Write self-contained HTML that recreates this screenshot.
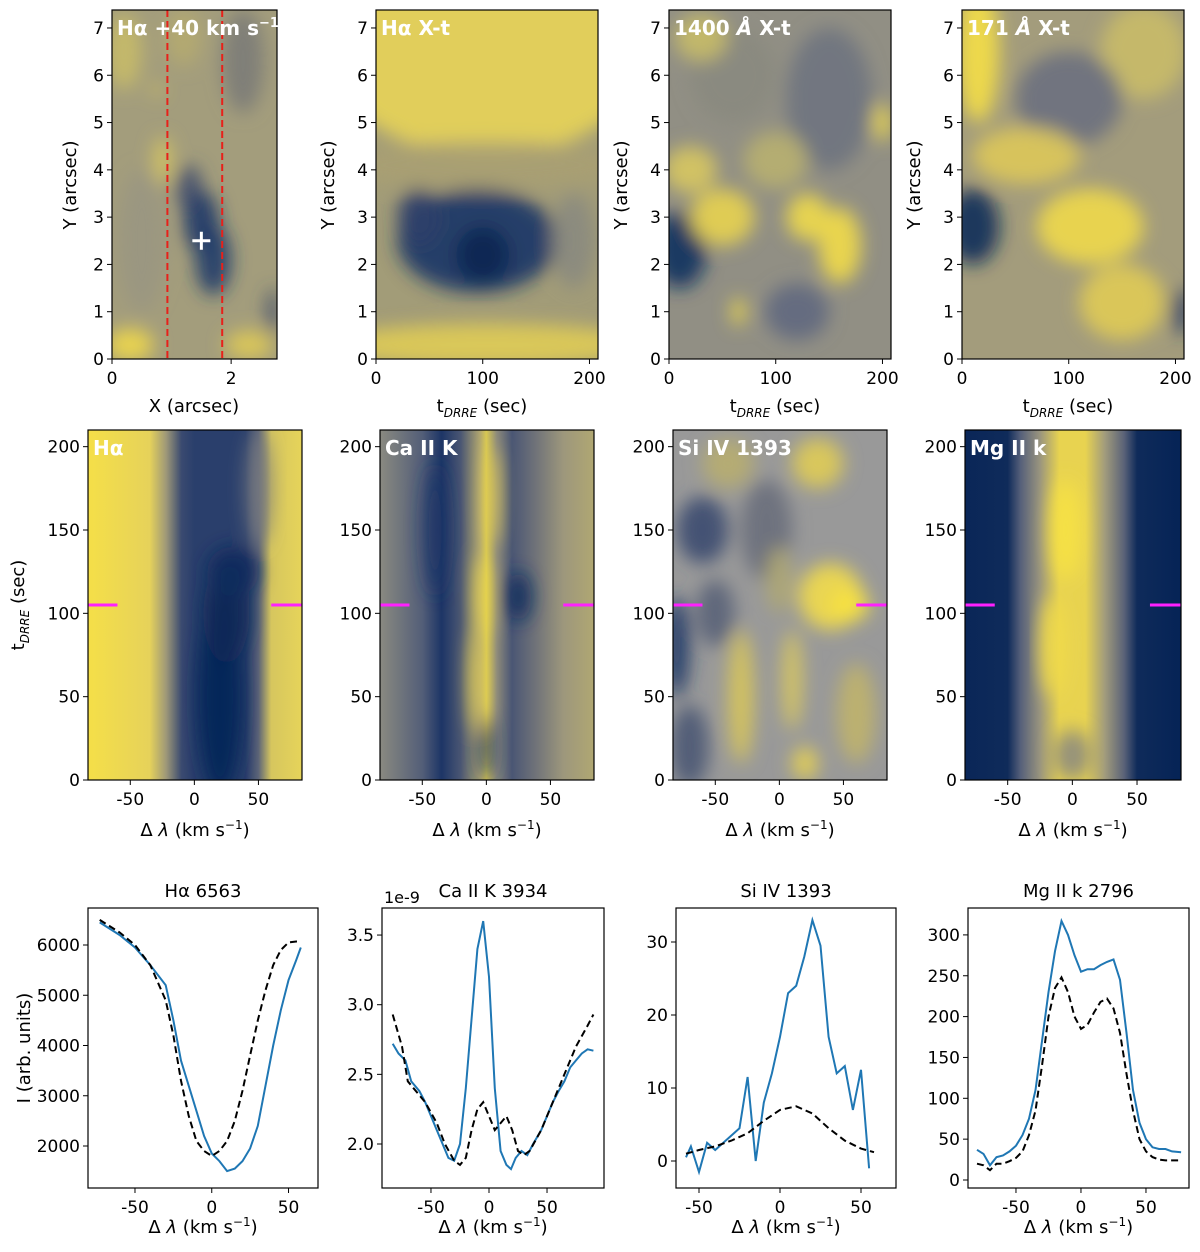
<!DOCTYPE html>
<html><head><meta charset="utf-8"><style>
body{margin:0;background:#fff}
svg text{font-family:"DejaVu Sans","Liberation Sans",sans-serif}
</style></head><body>
<svg id="fig" width="1200" height="1247" viewBox="0 0 1200 1247" xmlns="http://www.w3.org/2000/svg">
<defs>
<filter id="blur6" x="-20%" y="-20%" width="140%" height="140%"><feGaussianBlur stdDeviation="9"/></filter>
</defs>
</svg>
<script>
// ---------- line chart data (row 3) ----------
const haX=[-73,-60,-50,-40,-30,-25,-20,-15,-10,-5,0,5,10,15,20,25,30,35,40,45,50,55,58];
const haObs=[6450,6200,5950,5600,5200,4500,3700,3200,2700,2200,1850,1700,1500,1550,1700,1950,2400,3200,4000,4700,5300,5700,5950];
const haRef=[6500,6250,6000,5600,4900,4200,3300,2600,2100,1900,1800,1900,2100,2500,3100,3800,4500,5100,5600,5900,6050,6070,6070];
const caX=[-83,-78,-72,-67,-60,-55,-50,-45,-40,-35,-30,-25,-20,-15,-10,-5,0,5,10,15,19,23,28,33,38,45,50,55,60,65,70,75,80,85,90];
const caObs=[2.72,2.65,2.6,2.45,2.38,2.3,2.2,2.1,2.0,1.9,1.88,2.0,2.4,2.9,3.4,3.6,3.2,2.4,1.95,1.85,1.82,1.9,1.95,1.92,2.0,2.1,2.2,2.3,2.38,2.45,2.55,2.6,2.65,2.68,2.67];
const caRefX=[-83,-75,-70,-65,-55,-45,-38,-30,-25,-20,-15,-10,-5,0,5,10,15,20,25,30,35,45,55,65,75,85,90];
const caRef=[2.93,2.7,2.45,2.4,2.3,2.15,2.0,1.88,1.85,1.9,2.1,2.25,2.3,2.2,2.1,2.15,2.2,2.1,1.95,1.92,1.95,2.1,2.3,2.5,2.7,2.85,2.93];
const siX=[-58,-55,-50,-45,-40,-35,-30,-25,-20,-15,-10,-5,0,5,10,15,20,25,30,35,40,45,50,55];
const siObs=[0.5,2,-1.5,2.5,1.5,2.5,3.5,4.5,11.5,0,8,12,17,23,24,28,33,29.5,17,12,13,7,12.5,-1];
const siRefX=[-58,-50,-40,-30,-20,-10,0,10,20,30,40,50,58];
const siRef=[1,1.5,2,2.8,3.8,5.5,7,7.5,6.5,4.5,2.8,1.7,1.2];
const mgX=[-80,-75,-70,-65,-60,-55,-50,-45,-40,-35,-30,-25,-20,-15,-10,-5,0,5,10,15,20,25,30,35,40,45,50,55,60,65,70,77];
const mgObs=[37,32,18,28,30,35,42,55,75,110,170,230,280,317,300,275,255,258,258,263,267,270,245,180,110,70,50,40,38,38,35,34];
const mgRef=[20,18,12,20,20,23,27,35,55,85,140,200,235,248,230,200,185,190,205,218,222,210,180,130,85,50,35,28,25,24,24,24];

const NS="http://www.w3.org/2000/svg";
const svg=document.getElementById('fig');
function el(tag,attrs,parent){const e=document.createElementNS(NS,tag);for(const k in attrs)e.setAttribute(k,attrs[k]);(parent||svg).appendChild(e);return e;}
function txt(s,x,y,attrs,parent){const t=el('text',Object.assign({x:x,y:y,'font-size':17,fill:'#000'},attrs||{}),parent);t.innerHTML=s;return t;}
function axes(box,xd,yd){
  const sx=v=>box.x0+(v-xd[0])/(xd[1]-xd[0])*(box.x1-box.x0);
  const sy=v=>box.y1-(v-yd[0])/(yd[1]-yd[0])*(box.y1-box.y0);
  return {sx,sy};
}
function frame(box,name){
  const r=el('rect',{x:box.x0,y:box.y0,width:box.x1-box.x0,height:box.y1-box.y0,fill:'none',stroke:'#000','stroke-width':1.2});
  
  
}
function ticks(box,A,xt,yt,xfmt,yfmt){
  const g=el('g',{});
  
  
  xt.forEach(v=>{const x=A.sx(v);el('line',{x1:x,x2:x,y1:box.y1,y2:box.y1+5,stroke:'#000'},g);
    const t=txt(xfmt?xfmt(v):String(v),x,box.y1+25,{'text-anchor':'middle'},g);
    });
  yt.forEach(v=>{const y=A.sy(v);el('line',{x1:box.x0-5,x2:box.x0,y1:y,y2:y,stroke:'#000'},g);
    const t=txt(yfmt?yfmt(v):String(v),box.x0-8,y+6,{'text-anchor':'end'},g);
    });
}
let clipN=0;
function heat(box,A,name,bg,cols,blobs){
  const id='c'+(clipN++);
  const cp=el('clipPath',{id:id},svg.querySelector('defs'));
  el('rect',{x:box.x0,y:box.y0,width:box.x1-box.x0,height:box.y1-box.y0},cp);
  const g=el('g',{'clip-path':'url(#'+id+')'});
  
  
  if(cols){
    const gid='g'+id;
    const lg=el('linearGradient',{id:gid,x1:0,x2:1,y1:0,y2:0},svg.querySelector('defs'));
    const xd0=cols[0][0],xd1=cols[cols.length-1][0];
    cols.forEach(c=>el('stop',{offset:((c[0]-xd0)/(xd1-xd0)),'stop-color':c[1]},lg));
    el('rect',{x:A.sx(xd0),y:box.y0,width:A.sx(xd1)-A.sx(xd0),height:box.y1-box.y0,fill:'url(#'+gid+')'},g);
  } else {
    el('rect',{x:box.x0,y:box.y0,width:box.x1-box.x0,height:box.y1-box.y0,fill:bg},g);
  }
  const bg2=el('g',{filter:'url(#blur6)'},g);
  blobs.forEach(b=>{
    const cx=A.sx(b[0]),cy=A.sy(b[1]);
    const rx=Math.abs(A.sx(b[0]+b[2])-cx),ry=Math.abs(A.sy(b[1]+b[3])-cy);
    el('ellipse',{cx:cx,cy:cy,rx:rx,ry:ry,fill:b[4],opacity:b[5]||0.9},bg2);
  });
  return g;
}
function title(box,s,name){
  const t=txt(s,box.x0+5,box.y0+25,{fill:'#fff','font-weight':'bold','font-size':20});
  
}
function ylab(s,x,cy,name){
  const t=txt(s,x,cy,{'text-anchor':'middle','font-size':18,transform:'rotate(-90 '+x+' '+cy+')'});
  
}
function xlab(s,cx,y,name){
  const t=txt(s,cx,y,{'text-anchor':'middle','font-size':18});
  
}
const tl='t<tspan font-size="12" dy="5" font-style="italic">DRRE</tspan><tspan dy="-5"> (sec)</tspan>';
const dl='Δ <tspan font-style="italic">λ</tspan> (km s<tspan font-size="12" dy="-7">−1</tspan><tspan dy="7">)</tspan>';

// ---------- Row 1 ----------
const r1y=[10,359];
const p1={x0:112,x1:277,y0:r1y[0],y1:r1y[1]};
const A1=axes(p1,[0,2.77],[0,7.38]);
heat(p1,A1,'halpha-image','#a39d7c',null,[
 [2.2,6.3,0.35,1.1,'#7c7b78'],[0.5,2.5,0.4,1.5,'#9a9682'],[0.3,0.3,0.4,0.35,'#f0d84a'],[2.3,0.3,0.4,0.3,'#e0cb55'],
 [0.85,4.2,0.15,0.5,'#d8c860'],[0.75,5.7,0.08,0.1,'#f0d850'],[1.3,3.6,0.22,0.5,'#44506e'],
 [1.5,2.9,0.3,0.65,'#1d3768'],[1.7,2.1,0.3,0.75,'#203a6a'],[2.7,1.0,0.1,0.5,'#3d4a6b'],[0.2,6.5,0.3,0.8,'#c8bb68'],[1.2,6.8,0.3,0.6,'#b5ab70']]);
[0.93,1.85].forEach(v=>{const l=el('line',{x1:A1.sx(v),x2:A1.sx(v),y1:p1.y0,y2:p1.y1,stroke:'#e8201a','stroke-width':2,'stroke-dasharray':'7,4'});
 });
const pl=el('path',{d:`M${A1.sx(1.5)-9},${A1.sy(2.5)}h18M${A1.sx(1.5)},${A1.sy(2.5)-9}v18`,stroke:'#fff','stroke-width':3});

frame(p1,'halpha-image');ticks(p1,A1,[0,2],[0,1,2,3,4,5,6,7]);
title(p1,'Hα +40 km s<tspan font-size="13" dy="-8">−1</tspan>','halpha-image-title');
ylab('Y (arcsec)',76,185,'y-axis-title');xlab('X (arcsec)',194,412,'x-axis-title');

const xtSpecs=[
 {x0:376,x1:598,name:'halpha-xt',t:'Hα X-t',bg:'#a29c78',blobs:[[104,6.5,150,2.2,'#e8d458'],[104,0.3,150,0.45,'#e0cc55'],[100,4.1,150,0.5,'#a8a072'],[95,2.5,75,1.1,'#1a3566'],[100,2.2,25,0.6,'#0b2452'],[40,3,20,0.6,'#2c3f6a'],[185,2.5,20,1,'#8a8a80']]},
 {x0:669,x1:891,name:'si1400-xt',t:'1400 <tspan font-style="italic">Å</tspan> X-t',bg:'#918f84',blobs:[[150,5.5,40,1.5,'#6f7380'],[60,6,40,1,'#8a8a80'],[120,1,30,0.6,'#5f6880'],[10,2.3,25,0.8,'#12305e'],[50,3,30,0.6,'#e8d350'],[160,2.4,20,0.8,'#f2dc48'],[130,3,20,0.5,'#f0da4a'],[200,5,8,0.4,'#f0da4a'],[65,1,6,0.3,'#f6e045'],[20,4,25,0.5,'#d8c860'],[100,4.2,30,0.6,'#b8b070'],[30,6.8,25,0.5,'#c8bc68']]},
 {x0:962,x1:1184,name:'aia171-xt',t:'171 <tspan font-style="italic">Å</tspan> X-t',bg:'#a39c7c',blobs:[[170,6.5,40,1,'#c9bb68'],[100,5.5,50,1,'#6c7080'],[15,6.5,20,1.5,'#f5df45'],[10,2.8,25,0.8,'#0f2b5a'],[120,2.8,50,0.8,'#f0d94a'],[60,4.3,50,0.6,'#ddc85a'],[150,1.2,40,0.8,'#e0cb55'],[205,1,8,0.5,'#2a3f68']]}
];
xtSpecs.forEach(s=>{
  const b={x0:s.x0,x1:s.x1,y0:r1y[0],y1:r1y[1]};
  const A=axes(b,[0,208],[0,7.38]);
  heat(b,A,s.name+'-image',s.bg,null,s.blobs);
  frame(b,s.name);ticks(b,A,[0,100,200],[0,1,2,3,4,5,6,7]);
  title(b,s.t,s.name+'-title');
  ylab('Y (arcsec)',b.x0-42,185,'y-axis-title');
  xlab(tl,(b.x0+b.x1)/2-5,412,'x-axis-title');
});

// ---------- Row 2 ----------
const r2=[
 {x0:88,x1:302,name:'halpha-spectrum',t:'Hα',cols:[[-83,'#f5df48'],[-35,'#e6d25a'],[-22,'#9e9878'],[-10,'#3a4a70'],[0,'#2a3f6c'],[40,'#2a3f6c'],[50,'#5c6478'],[60,'#d6c65e'],[84,'#e6d45a']],
  blobs:[[20,50,18,60,'#052356'],[25,100,18,30,'#0a2758'],[30,125,20,15,'#0e2a5c'],[50,175,10,35,'#7a7c80',0.8]]},
 {x0:380,x1:594,name:'caiik-spectrum',t:'Ca II K',cols:[[-83,'#8a8a80'],[-50,'#535e78'],[-35,'#1d3566'],[-20,'#4a5673'],[-5,'#b0a670'],[0,'#d8c852'],[8,'#8d8a7c'],[20,'#4a5674'],[40,'#737579'],[60,'#9d977c'],[84,'#b0a772']],
  blobs:[[-8,60,5,30,'#ecd650'],[-3,110,5,25,'#f5df45'],[5,170,5,30,'#e8d24f'],[25,110,10,15,'#102c5c'],[0,20,6,20,'#1f3767'],[-40,150,10,40,'#1a3566',0.7]]},
 {x0:673,x1:887,name:'siiv-spectrum',t:'Si IV 1393',bg:'#878680',
  blobs:[[-10,150,20,30,'#6a6e7c'],[-70,20,15,25,'#4a5673'],[-80,80,10,30,'#1f3767'],[-60,150,20,20,'#3a4a70'],[-30,50,10,40,'#d9c65a'],[40,110,25,20,'#f2db4a'],[55,105,15,10,'#f8e240'],[30,190,20,15,'#e0cc55'],[20,10,10,10,'#e8d352'],[10,60,8,30,'#d8c860'],[-40,190,20,15,'#b8ae70'],[60,40,15,30,'#c0b46c'],[-50,100,15,20,'#5a6378'],[0,120,10,20,'#b0a872']]},
 {x0:965,x1:1181,name:'mgiik-spectrum',t:'Mg II k',cols:[[-83,'#0a2658'],[-50,'#0f2b5a'],[-40,'#56607a'],[-25,'#9a957e'],[-10,'#e8d350'],[10,'#e8d350'],[25,'#a29c7c'],[40,'#5a6278'],[50,'#0f2b5a'],[84,'#052356']],
  blobs:[[-5,150,12,30,'#f7e243'],[-15,80,10,30,'#f2dc48'],[0,15,15,15,'#8e8c7e']]}
];
r2.forEach((s,i)=>{
  const b={x0:s.x0,x1:s.x1,y0:430,y1:780};
  const A=axes(b,[-83,84],[0,210]);
  heat(b,A,s.name+'-image','#999',s.cols||null,s.blobs);
  [[-83,-60],[60,84]].forEach(seg=>{const l=el('line',{x1:A.sx(seg[0]),x2:A.sx(seg[1]),y1:A.sy(105),y2:A.sy(105),stroke:'#ff20ff','stroke-width':3});
   });
  frame(b,s.name);ticks(b,A,[-50,0,50],[0,50,100,150,200]);
  title(b,s.t,s.name+'-title');
  xlab(dl,(b.x0+b.x1)/2,836,'x-axis-title');
});
ylab(tl,24,605,'y-axis-title');

// ---------- Row 3 ----------
function lineChart(b,xd,yd,xt,yt,yfmt,series,name,ttl){
  const A=axes(b,xd,yd);
  const g=el('g',{});
  
  series.forEach(s=>{
    const d=s.x.map((v,i)=>(i?'L':'M')+A.sx(v).toFixed(1)+','+A.sy(s.y[i]).toFixed(1)).join('');
    const p=el('path',{d:d,fill:'none',stroke:s.c,'stroke-width':2,'stroke-dasharray':s.dash||'none'},g);
    
  });
  frame(b,name);ticks(b,A,xt,yt,null,yfmt);
  const t=txt(ttl,(b.x0+b.x1)/2,897,{'text-anchor':'middle','font-size':18});
  
  xlab(dl,(b.x0+b.x1)/2,1233,'x-axis-title');
}
const B='#1f77b4';
lineChart({x0:88,x1:318,y0:908,y1:1188},[-80.6,69.2],[2000-(1188-1146)/50.25*1000,2000+(1146-908)/50.25*1000],[-50,0,50],[2000,3000,4000,5000,6000],null,
 [{x:haX,y:haObs,c:B,n:'observed-profile'},{x:haX,y:haRef,c:'#000',dash:'7,4',n:'reference-profile'}],'halpha-profile-chart','Hα 6563');
lineChart({x0:382,x1:604,y0:908,y1:1188},[-92.2,99.1],[2.0-(1188-1144)/139.3,2.0+(1144-908)/139.3],[-50,0,50],[2.0,2.5,3.0,3.5],v=>v.toFixed(1),
 [{x:caX,y:caObs,c:B,n:'observed-profile'},{x:caRefX,y:caRef,c:'#000',dash:'7,4',n:'reference-profile'}],'caiik-profile-chart','Ca II K 3934');
const ex=txt('1e-9',384,903,{'font-size':16});
lineChart({x0:676,x1:896,y0:908,y1:1188},[-64.2,71.6],[-(1188-1161)/7.3,(1161-908)/7.3],[-50,0,50],[0,10,20,30],null,
 [{x:siX,y:siObs,c:B,n:'observed-profile'},{x:siRefX,y:siRef,c:'#000',dash:'7,4',n:'reference-profile'}],'siiv-profile-chart','Si IV 1393');
lineChart({x0:968,x1:1189,y0:908,y1:1188},[-86.9,83.1],[-(1188-1180)/0.817,(1180-908)/0.817],[-50,0,50],[0,50,100,150,200,250,300],null,
 [{x:mgX,y:mgObs,c:B,n:'observed-profile'},{x:mgX,y:mgRef,c:'#000',dash:'7,4',n:'reference-profile'}],'mgiik-profile-chart','Mg II k 2796');
ylab('I (arb. units)',30,1048,'y-axis-title');
</script>
</body></html>
